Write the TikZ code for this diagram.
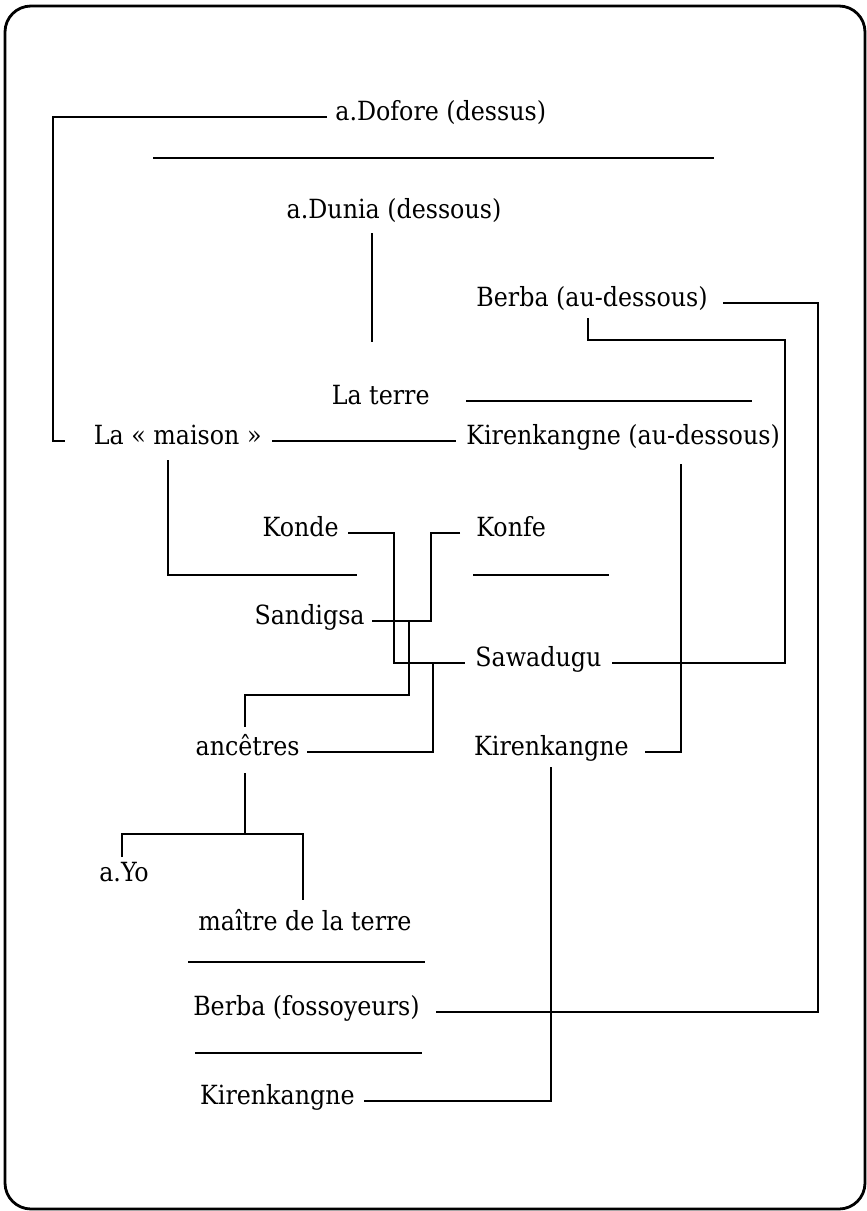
\documentclass[tikz,border=0pt]{standalone}
\usepackage{fontspec}
\setmainfont{DejaVu Serif Condensed}
\usetikzlibrary{calc}
\begin{document}
\begin{tikzpicture}[x=0.5pt,y=-0.5pt,
  lbl/.style={inner sep=0pt, font=\fontsize{13.2}{16}\selectfont},
  ln/.style={line width=1.1pt},
  frame/.style={line width=1.4pt, rounded corners=13pt}]
\useasboundingbox (0,0) rectangle (867,1211);
\draw[frame] (5,6) rectangle (865,1209);
% labels
\node[lbl, anchor=base west] (dofore)   at (335,120) {a.Dofore (dessus)};
\node[lbl, anchor=base]      (dunia)    at (394,218) {a.Dunia (dessous)};
\node[lbl, anchor=base east] (berba1)   at (708,306) {Berba (au-dessous)};
\node[lbl, anchor=base east] (terre)    at (430,404) {La terre};
\node[lbl, anchor=base east] (maison)   at (262,444) {La « maison »};
\node[lbl, anchor=base west] (kir1)     at (466,444) {Kirenkangne (au-dessous)};
\node[lbl, anchor=base east] (konde)    at (339,536) {Konde};
\node[lbl, anchor=base west] (konfe)    at (476,536) {Konfe};
\node[lbl, anchor=base east] (sandigsa) at (365,624) {Sandigsa};
\node[lbl, anchor=base west] (sawadugu) at (475,666) {Sawadugu};
\node[lbl, anchor=base east] (ancetres) at (300,755) {ancêtres};
\node[lbl, anchor=base east] (kir2)     at (629,755) {Kirenkangne};
\node[lbl, anchor=base]      (ayo)      at (124,881) {a.Yo};
\node[lbl, anchor=base]      (maitre)   at (305,930) {maître de la terre};
\node[lbl, anchor=base east] (berba2)   at (420,1015) {Berba (fossoyeurs)};
\node[lbl, anchor=base east] (kir3)     at (355,1104) {Kirenkangne};
% helper coordinates
\coordinate (bk) at (65,441);
\coordinate (s1a) at (153,158); \coordinate (s1b) at (714,158);
\coordinate (x372) at (372,0);
\coordinate (xR) at (818,0);
\coordinate (x588) at (588,0);
\coordinate (x785) at (785,0);
\coordinate (x752) at (752,0);
\coordinate (x168) at (168,0);
\coordinate (m1) at (357,575);
\coordinate (s2a) at (473,575); \coordinate (s2b) at (609,575);
\coordinate (x681) at (681,0);
\coordinate (x394) at (394,0);
\coordinate (x431) at (431,0);
\coordinate (x409) at (409,0);
\coordinate (y695) at (0,695);
\coordinate (x245) at (245,0);
\coordinate (x433) at (433,0);
\coordinate (y834) at (0,834);
\coordinate (x122) at (122,0);
\coordinate (x303) at (303,0);
\coordinate (s3a) at (188,962); \coordinate (s3b) at (425,962);
\coordinate (s4a) at (195,1053); \coordinate (s4b) at (422,1053);
\coordinate (x551) at (551,0);
% connectors
\draw[ln] ($(dofore.base west)+(-8,-3)$) -- ($(dofore.base west)+(-282,-3)$) |- (bk);
\draw[ln] (s1a) -- (s1b);
\draw[ln] ($(x372 |- dunia.base)+(0,15)$) -- ($(x372 |- terre.base)+(0,-62)$);
\draw[ln] ($(berba1.base east)+(15,-3)$) -- ($(xR |- berba1.base)+(0,-3)$) |- ($(berba2.base east)+(16,-3)$);
\draw[ln] ($(x588 |- berba1.base)+(0,12)$) |- ($(x785 |- berba1.base)+(0,34)$) |- ($(sawadugu.base east)+(10,-3)$);
\draw[ln] ($(terre.base east)+(36,-3)$) -- ($(x752 |- terre.base)+(0,-3)$);
\draw[ln] ($(maison.base east)+(10,-3)$) -- ($(kir1.base west)+(-10,-3)$);
\draw[ln] ($(x168 |- maison.base)+(0,16)$) |- (m1);
\draw[ln] (s2a) -- (s2b);
\draw[ln] ($(x681 |- kir1.base)+(0,20)$) |- ($(kir2.base east)+(16,-3)$);
\draw[ln] ($(konde.base east)+(9,-3)$) -- ($(x394 |- konde.base)+(0,-3)$) |- ($(sawadugu.base west)+(-10,-3)$);
\draw[ln] ($(konfe.base west)+(-16,-3)$) -- ($(x431 |- konfe.base)+(0,-3)$) |- ($(sandigsa.base east)+(7,-3)$);
\draw[ln] ($(x409 |- sandigsa.base)+(0,-3)$) -- (x409 |- y695) -| ($(x245 |- ancetres.base)+(0,-28)$);
\draw[ln] ($(x433 |- sawadugu.base)+(0,-3)$) |- ($(ancetres.base east)+(7,-3)$);
\draw[ln] ($(x245 |- ancetres.base)+(0,18)$) -- (x245 |- y834);
\draw[ln] ($(x122 |- ayo.base)+(0,-24)$) |- (x303 |- y834) -- ($(x303 |- maitre.base)+(0,-30)$);
\draw[ln] (s3a) -- (s3b);
\draw[ln] (s4a) -- (s4b);
\draw[ln] ($(x551 |- kir2.base)+(0,12)$) |- ($(kir3.base east)+(9,-3)$);
\end{tikzpicture}
\end{document}
